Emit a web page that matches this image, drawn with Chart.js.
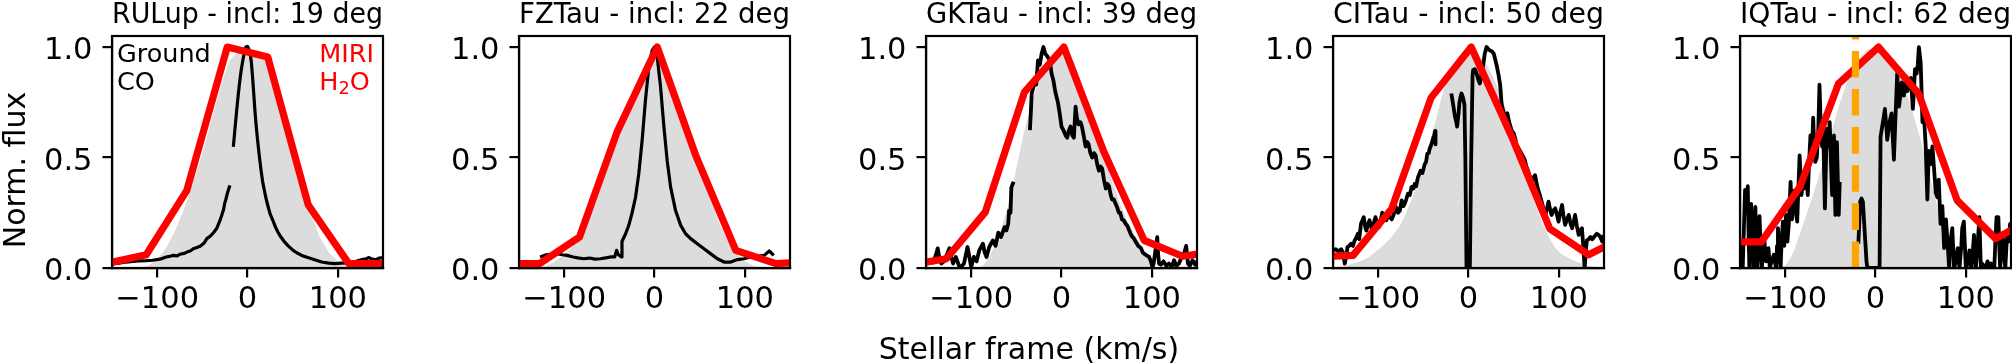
<!DOCTYPE html>
<html>
<head>
<meta charset="utf-8">
<title>Ground CO vs MIRI H2O line profiles</title>
<script src="https://cdn.jsdelivr.net/npm/chart.js"></script>
<style>
  html, body { margin:0; padding:0; background:#ffffff; }
  body { position:relative; width:2012px; height:363px; overflow:hidden; font-family:'DejaVu Sans', sans-serif; }
  canvas { position:absolute; top:0; }
  .txt { position:absolute; white-space:nowrap; font-family:'DejaVu Sans', sans-serif; color:#000; }
</style>
</head>
<body>
<canvas id="p0" width="391" height="363"></canvas>
<canvas id="p1" width="391" height="363"></canvas>
<canvas id="p2" width="391" height="363"></canvas>
<canvas id="p3" width="391" height="363"></canvas>
<canvas id="p4" width="391" height="363"></canvas>

<div class="txt" style="left:-135.4px;top:155px;width:300px;height:30px;line-height:30px;font-size:30px;text-align:center;transform:rotate(-90deg);">Norm. flux</div>
<div class="txt" style="left:829px;top:333.6px;width:400px;line-height:30px;font-size:30px;text-align:center;">Stellar frame (km/s)</div>
<div class="txt" style="left:117px;top:39px;font-size:25.5px;line-height:28.4px;">Ground<br>CO</div>
<div class="txt" style="left:319.3px;top:39px;font-size:25.5px;line-height:28.4px;color:#ff0000;">MIRI<br>H<span style="font-size:70%;position:relative;top:4px;line-height:0;">2</span>O</div>

<script>
// ---------------- data ----------------
const targets = ['RULup', 'FZTau', 'GKTau', 'CITau', 'IQTau'];
const inclinations = [19, 22, 39, 50, 62];
const xTickValues = [-100, 0, 100];
const yTickValues = [0, 0.5, 1.0];

// RULup
const modelVel_RULup = [-150,-120,-110,-100,-90,-80,-70,-60,-50,-40,-30,-20,-10,0,10,20,30,40,50,60,70,80,90,100,110,120,150];
const modelFlux_RULup = [0,0,0.01,0.04,0.09,0.17,0.27,0.39,0.52,0.67,0.82,0.94,0.98,0.99,0.98,0.96,0.84,0.67,0.51,0.37,0.25,0.14,0.07,0.03,0.005,0,0];
const coVel_RULup = [
  -150,-142,-135,-127,-120,-112,-105,-97,-90,-85,
  -82,-78,-75,-70,-67,-63,-60,-56,-52,-48,
  -45,-41,-37,-34,-32,-30,-28,-26.5,-25.4,-24,
  -22.4,-21,-19.4,-17.5,-15.7,-14.3,-13,-11.8,-10.5,-9,
  -7.5,-6,-4.5,-3.2,-1.9,0,1.5,3,4.3,5.6,
  6.9,8.2,9.7,11.2,13,15,16.8,18.7,20.5,22.4,
  25,28,31,33.6,37,41,45,50.5,55,60,
  65,71,76,82,90,97,104,112,120,127,
  131,134.6,138,142,146,150];
const coFlux_RULup = [
  0.018,0.022,0.027,0.03,0.032,0.033,0.035,0.04,0.05,0.054,
  0.057,0.055,0.062,0.066,0.072,0.078,0.087,0.093,0.1,0.113,
  0.133,0.145,0.163,0.18,0.2,0.22,0.246,0.265,0.29,0.31,
  0.336,0.355,0.374,null,0.548,0.61,0.668,0.72,0.774,0.83,
  0.88,0.92,0.955,0.98,1.0,1.003,0.99,0.97,0.93,0.864,
  0.79,0.713,0.64,0.578,0.51,0.442,0.39,0.351,0.315,0.284,
  0.245,0.216,0.185,0.163,0.14,0.118,0.1,0.08,0.068,0.057,
  0.05,0.042,0.035,0.027,0.022,0.02,0.022,0.023,0.03,0.038,
  0.042,0.047,0.04,0.038,0.045,0.047];
const h2oVel_RULup = [-156.9,-112.1,-67.3,-22.4,22.4,67.3,112.1,156.9];
const h2oFlux_RULup = [0.02,0.06,0.35,1.0,0.955,0.285,0.02,0.02];

// FZTau
const modelVel_FZTau = [-150,-130,-120,-110,-100,-90,-80,-70,-60,-50,-40,-30,-20,-10,0,5,10,20,30,40,50,60,70,80,90,100,110,120,150];
const modelFlux_FZTau = [0,0,0.01,0.03,0.06,0.1,0.15,0.25,0.37,0.49,0.62,0.74,0.84,0.93,0.99,1.0,0.97,0.86,0.74,0.61,0.47,0.34,0.22,0.13,0.07,0.03,0.01,0,0];
const coVel_FZTau = [
  -126.7,-120,-114,-108,-102,-97,-90,-85,-78.5,-72,
  -66,-60,-54,-48,-44,-42,-40,-38,-36.5,-36,
  -32,-28.5,-25,-21,-17.4,-13.7,-10,-6.3,-2.6,0,
  3,6.7,10.4,14,17.8,23.3,29,34.4,40,47.4,
  54.8,62,69.6,77,84.4,91.8,99,106.7,114,121.5,
  127,132];
const coFlux_FZTau = [
  0.05,0.06,0.062,0.065,0.06,0.057,0.05,0.046,0.042,0.045,
  0.04,0.042,0.046,0.05,0.05,0.08,0.06,0.055,0.05,0.12,
  0.155,0.193,0.246,0.32,0.427,0.578,0.76,0.91,0.985,1.0,
  0.955,0.82,0.64,0.487,0.367,0.26,0.193,0.155,0.133,0.11,
  0.087,0.065,0.042,0.027,0.027,0.038,0.042,0.05,0.053,0.057,
  0.077,0.057];
const h2oVel_FZTau = [-171.2,-127,-83,-41.5,3,45.6,90,134.4,178];
const h2oFlux_FZTau = [0.02,0.02,0.14,0.615,1.0,0.51,0.08,0.02,0.03];

// GKTau
const modelVel_GKTau = [-150,-90,-85,-80,-75,-70,-65,-60,-55,-50,-45,-40,-30,-20,-10,0,6,14,21,28,36,44,51,58,65,72,80,88,95,102,150];
const modelFlux_GKTau = [0,0,0.02,0.05,0.09,0.14,0.2,0.27,0.35,0.45,0.55,0.64,0.79,0.91,0.97,1.0,0.99,0.93,0.85,0.74,0.62,0.52,0.45,0.37,0.29,0.22,0.16,0.1,0.05,0,0];
const coVel_GKTau = [
  -150,-146,-142,-139,-137,-135,-133,-130,-127,-124,
  -122,-120,-117,-113,-110,-108,-104,-102,-100,-97,
  -94,-91,-87,-85,-83,-80,-76,-73,-70,-67,
  -63,-61,-59,-58,-56.5,-55.5,-53,-44,-35,-34,
  -33,-31,-30,-28,-26,-24,-22,-20,-18,-16,
  -13,-11,-9,-7,-4,-2,0,2.6,4.5,6.3,
  8,10,12,13.7,15.6,17,19,21,22.6,24.5,
  26.7,28.5,30,32,34,36,37.8,39.5,41.5,43,
  45,47,49,51,52.6,54.5,56,58,60,62,
  63.5,65,67,69,71,73,75,77,78.5,80,
  82,85,88,90,93,95,97,99,100.7,102,
  104,106,107,108,110,113,116,119,122,124.6,
  127,130,132,134,136,138,140,142,145,148,
  151];
const coFlux_GKTau = [
  0.029,0.03,0.025,0.06,0.089,0.04,0.02,0.03,0.06,0.089,
  0.05,0.02,0.05,0.005,0.01,0.02,0.095,0.05,0.005,0.05,
  0.03,0.08,0.11,0.07,0.05,0.095,0.125,0.1,0.16,0.14,
  0.185,0.17,0.2,0.26,0.25,0.365,0.39,null,0.624,0.7,
  0.79,0.82,0.85,0.83,0.94,0.92,0.97,1.0,0.97,0.96,
  0.94,0.88,0.85,0.8,0.75,0.7,0.64,0.62,0.6,0.59,
  0.62,0.64,0.6,0.59,0.73,0.68,0.65,0.66,0.64,0.6,
  0.55,0.57,0.56,0.52,0.5,0.52,0.51,0.47,0.44,0.46,
  0.45,0.4,0.36,0.38,0.37,0.33,0.31,0.31,0.29,0.27,
  0.25,0.25,0.22,0.215,0.2,0.19,0.17,0.15,0.14,0.135,
  0.12,0.1,0.09,0.07,0.06,0.055,0.05,0.03,0.005,0.02,
  0.08,0.14,0.06,0.02,0.015,0.03,0.01,0.02,0.005,0.035,
  0.01,0.02,0.04,0.05,0.07,0.1,0.02,0.01,0.035,0.015,
  0.035];
const h2oVel_GKTau = [-171.5,-127.5,-84.4,-41,2.6,47,91.5,134,178];
const h2oFlux_GKTau = [0.012,0.042,0.253,0.796,1.0,0.525,0.125,0.053,0.079];

// CITau
const modelVel_CITau = [
  -150,-136,-120,-110,-95,-85,-76,-70,-61,-55,
  -47,-40,-35,-30,-24,-17,-10,0,11,20,
  29,37,44,52,59,66,74,81,89,96,
  104,118,133,150];
const modelFlux_CITau = [
  0,0.01,0.03,0.05,0.1,0.14,0.19,0.24,0.33,0.4,
  0.5,0.61,0.69,0.77,0.85,0.92,0.96,0.98,0.96,0.92,
  0.85,0.77,0.69,0.58,0.47,0.38,0.29,0.21,0.14,0.09,
  0.06,0.03,0.01,0];
const coVel_CITau = [
  -150,-147,-144,-141,-139,-137,-135,-134,-132,-130,
  -128,-126,-124,-122.5,-121,-119,-116,-114,-113,-111,
  -109.6,-108,-106.6,-105,-103,-101,-99,-97,-95.5,-93,
  -91,-89,-87,-85,-83,-80,-78,-76,-74,-72,
  -70.7,-69,-67,-65,-63,-61,-59.6,-58,-56,-54,
  -53,-51,-48.5,-47,-45.6,-44,-43,-41,-39,-38,
  -37,-36.5,-28,-19,-17,-15,-13.5,-12.6,-11,-10,
  -8.5,-7.7,-6,-4.5,-3.5,-2.2,0,1.5,3,4.5,
  5.2,7,9,11,12.6,14.5,16.3,18,20,22,
  23.7,26,28,31,33,35,36.7,38.5,40.5,43,
  45,48,50,51.5,53,55,57,59,61,62.6,
  64,66,68,70,72,73.7,75.5,77.4,79,81,
  83,85,87,88.6,90,92,94,96,98,99.7,
  101.5,103.6,105,107,109,111,113,114.7,116.5,118,
  120,122,124,125.6,127,128.6,130,131,133,135,
  137,139,142,144,146,148,149.7];
const coFlux_CITau = [
  0.08,0.085,0.075,0.085,0.07,0.02,0.06,0.095,0.1,0.11,
  0.1,0.125,0.14,0.155,0.13,0.2,0.23,0.18,0.17,0.2,
  0.216,0.19,0.17,0.2,0.23,0.2,0.185,0.22,0.25,0.23,
  0.216,0.24,0.23,0.22,0.24,0.275,0.25,0.26,0.306,0.28,
  0.29,0.31,0.336,0.33,0.367,0.36,0.38,0.37,0.41,0.43,
  0.44,0.43,0.47,0.48,0.517,0.52,0.54,0.56,0.59,0.6,
  0.62,0.56,null,0.79,0.74,0.686,0.66,0.64,0.7,0.75,
  0.78,0.79,0.77,0.74,0.5,0.0,0.0,0.0,0.5,0.87,
  0.896,0.9,0.88,0.85,0.835,0.88,0.92,0.97,1.0,0.99,
  0.985,0.98,0.97,0.92,0.88,0.83,0.74,0.71,0.69,0.7,
  0.66,0.62,0.61,0.59,0.56,0.545,0.53,0.515,0.5,0.485,
  0.46,0.44,0.41,0.394,0.41,0.42,0.38,0.35,0.33,0.3,
  0.27,0.24,0.27,0.3,0.27,0.24,0.26,0.27,0.24,0.21,
  0.25,0.285,0.24,0.195,0.22,0.24,0.2,0.18,0.21,0.24,
  0.19,0.15,0.17,0.18,0.1,0.0,0.08,0.125,0.13,0.14,
  0.13,0.14,0.155,0.15,0.14,0.12,0.15];
const h2oVel_CITau = [-171,-127.8,-85,-41.5,3,48,90,133,176];
const h2oFlux_CITau = [0.05,0.057,0.268,0.77,1.0,0.593,0.178,0.06,0.149];

// IQTau
const modelVel_IQTau = [-150,-105,-100,-95,-90,-85,-80,-70,-60,-50,-40,-30,-20,-10,0,10,20,30,40,50,55,60,70,80,90,95,150];
const modelFlux_IQTau = [0,0,0.01,0.04,0.08,0.14,0.2,0.32,0.45,0.6,0.74,0.86,0.94,0.985,1.0,0.985,0.94,0.85,0.72,0.58,0.5,0.42,0.25,0.1,0.02,0,0];
const coVel_IQTau = [
  -150,-149,-147,-145.5,-144.4,-142.5,-141.4,-140.5,-139.6,-138.5,
  -137.7,-136,-135,-134,-133,-132,-131,-129.5,-128.4,-127,
  -126,-124.5,-123,-121,-119.5,-118.5,-117,-115,-112.6,-111,
  -110,-109,-108,-106.5,-105,-104,-102.5,-101,-99,-97.5,
  -96,-94,-92.5,-91.5,-90,-88,-86.7,-85,-84,-82,
  -80.5,-79,-77.5,-76.7,-75,-73.5,-72,-70.5,-69,-67.8,
  -66.7,-65,-63.5,-62,-61,-60,-59,-58,-57,-56,
  -55,-54,-52.5,-51.5,-50.7,-49.5,-48,-47,-46,-45.2,
  -44.4,-43.5,-42.7,-41.7,-40.7,-39.6,-30,-19,-18,-17,
  -15.5,-14,-12.5,-11,-10,-9,0,4.5,5.6,7.4,
  9,10.4,12,13,15.5,17.8,19,20.4,22,24,
  26,27.5,29,31.4,33,35,37,39,41.4,42.5,
  43.7,45.5,46.8,48,50,51,52,53.5,55.6,57.4,
  59,61,63,65,66.7,68.5,70,72,74,76,
  78,80,81.5,83,85,87,89,91,93,95,
  96,97.8,100,102,104,106,107.5,109,111,113,
  115,116.6,118,120,122,124,126,128,130,131.5,
  133,134,136,137,138,139.5,141,142.5,143.7,145,
  146,147.5,149,150];
const coFlux_IQTau = [
  0.12,0.11,0.0,0.2,0.353,0.3,0.37,0.15,0.0,0.2,
  0.29,0.12,0.0,0.15,0.276,0.1,0.0,0.15,0.235,0.08,
  0.0,0.05,0.12,0.03,0.04,0.09,0.0,0.03,0.06,0.02,
  0.0,0.1,0.18,0.06,0.0,0.12,0.21,0.1,0.24,0.12,
  0.2,0.39,0.22,0.27,0.35,0.25,0.21,0.4,0.51,0.33,
  0.38,0.36,0.42,0.45,0.33,0.48,0.6,0.5,0.68,0.55,
  0.48,0.5,0.6,0.83,0.7,0.6,0.55,0.66,0.45,0.27,
  0.45,0.63,0.55,0.6,0.66,0.5,0.33,0.45,0.6,0.4,
  0.24,0.4,0.57,0.4,0.24,0.39,null,0.11,0.2,0.3,
  0.315,0.3,0.2,0.1,0.03,0.0,0.0,0.0,0.594,0.64,
  0.68,0.72,0.64,0.58,0.66,0.7,0.6,0.49,0.67,0.88,
  0.73,0.78,0.84,0.78,0.84,0.8,0.82,0.86,0.72,0.8,
  0.9,0.88,0.92,1.0,0.93,0.8,0.66,0.7,0.55,0.31,
  0.53,0.47,0.55,0.44,0.34,0.32,0.4,0.2,0.28,0.09,
  0.22,0.1,0.0,0.12,0.18,0.0,0.03,0.09,0.0,0.1,
  0.18,0.21,0.0,0.02,0.08,0.0,0.06,0.15,0.0,0.1,
  0.23,0.0,0.02,0.01,0.0,0.03,0.0,0.02,0.0,0.0,
  0.15,0.23,0.23,0.1,0.0,0.08,0.14,0.05,0.0,0.1,
  0.15,0.12,0.2,0.18];
const h2oVel_IQTau = [-169.5,-126.3,-83.7,-41,3.3,47.8,90.4,133,176];
const h2oFlux_IQTau = [0.118,0.118,0.367,0.834,1.0,0.789,0.306,0.133,0.229];
const markerVel_IQTau = -22.2;

// ---------------- layout / style ----------------
const boxLefts = [112, 519, 926, 1333, 1740];
const coLineWidths = [3.2, 3.2, 3.8, 3.8, 3.8];
const X_MIN = -150, X_MAX = 150, Y_MIN = 0, Y_MAX = 1.05;
const FAMILY = "'DejaVu Sans', sans-serif";

const boxPlugin = {
  id: 'axesBox',
  afterDatasetsDraw(chart) {
    const a = chart.chartArea, ctx = chart.ctx;
    ctx.save();
    ctx.strokeStyle = '#000';
    ctx.lineWidth = 2.2;
    ctx.strokeRect(a.left, a.top, a.right - a.left, a.bottom - a.top);
    ctx.restore();
  }
};

function pts(xs, ys) { return xs.map((x, i) => ({ x: x, y: ys[i] })); }

function makePanel(idx, modelV, modelF, coV, coF, h2oV, h2oF, markerV) {
  const canvas = document.getElementById('p' + idx);
  canvas.style.left = (boxLefts[idx] - 105) + 'px';
  const datasets = [];
  if (markerV !== undefined) {
    datasets.push({ data: [{ x: markerV, y: Y_MIN }, { x: markerV, y: Y_MAX }],
      borderColor: '#ffa500', borderWidth: 7.2, borderDash: [26.6, 11.5], borderCapStyle: 'butt',
      pointRadius: 0, fill: false, order: 0 });
  }
  datasets.push({ data: pts(h2oV, h2oF), borderColor: '#ff0000', borderWidth: 7.2,
    borderJoinStyle: 'round', borderCapStyle: 'round', pointRadius: 0, fill: false, tension: 0, order: 1 });
  datasets.push({ data: pts(coV, coF), borderColor: '#000000', borderWidth: coLineWidths[idx],
    borderJoinStyle: 'round', pointRadius: 0, fill: false, spanGaps: false, tension: 0, order: 2 });
  datasets.push({ data: pts(modelV, modelF), borderColor: 'rgba(0,0,0,0)', borderWidth: 0,
    backgroundColor: '#dcdcdc', fill: 'origin', pointRadius: 0, tension: 0, order: 3 });

  const grid = { drawOnChartArea: false, drawTicks: true, tickLength: 9.5, color: '#000', lineWidth: 2.2 };
  const border = { display: true, color: '#000', width: 2.2 };

  new Chart(canvas, {
    type: 'line',
    data: { datasets: datasets },
    options: {
      responsive: false, animation: false, events: [],
      layout: { padding: { left: 5, right: 15, top: 0, bottom: 0 } },
      plugins: {
        legend: { display: false },
        tooltip: { enabled: false },
        title: { display: true, text: targets[idx] + ' - incl: ' + inclinations[idx] + ' deg',
          fullSize: false, color: '#000',
          font: { family: FAMILY, size: 29, weight: 'normal', lineHeight: 1 },
          padding: { top: 0.5, bottom: 6.5 } }
      },
      scales: {
        x: { type: 'linear', min: X_MIN, max: X_MAX,
          afterBuildTicks: s => { s.ticks = xTickValues.map(v => ({ value: v })); },
          afterFit: s => { s.height = 95; },
          ticks: { color: '#000', font: { family: FAMILY, size: 30.5, lineHeight: 1 }, padding: 7.3,
            maxRotation: 0, minRotation: 0, autoSkip: false,
            callback: v => (v < 0 ? '\u2212' + Math.abs(v) : String(v)) },
          grid: grid, border: border },
        y: { type: 'linear', min: Y_MIN, max: Y_MAX,
          afterBuildTicks: s => { s.ticks = yTickValues.map(v => ({ value: v })); },
          afterFit: s => { s.width = 100; },
          ticks: { color: '#000', font: { family: FAMILY, size: 30.5, lineHeight: 1 }, padding: 10,
            labelOffset: 4.5, autoSkip: false, callback: v => Number(v).toFixed(1) },
          grid: grid, border: border }
      }
    },
    plugins: [boxPlugin]
  });
}

makePanel(0, modelVel_RULup, modelFlux_RULup, coVel_RULup, coFlux_RULup, h2oVel_RULup, h2oFlux_RULup);
makePanel(1, modelVel_FZTau, modelFlux_FZTau, coVel_FZTau, coFlux_FZTau, h2oVel_FZTau, h2oFlux_FZTau);
makePanel(2, modelVel_GKTau, modelFlux_GKTau, coVel_GKTau, coFlux_GKTau, h2oVel_GKTau, h2oFlux_GKTau);
makePanel(3, modelVel_CITau, modelFlux_CITau, coVel_CITau, coFlux_CITau, h2oVel_CITau, h2oFlux_CITau);
makePanel(4, modelVel_IQTau, modelFlux_IQTau, coVel_IQTau, coFlux_IQTau, h2oVel_IQTau, h2oFlux_IQTau, markerVel_IQTau);
</script>
</body>
</html>
